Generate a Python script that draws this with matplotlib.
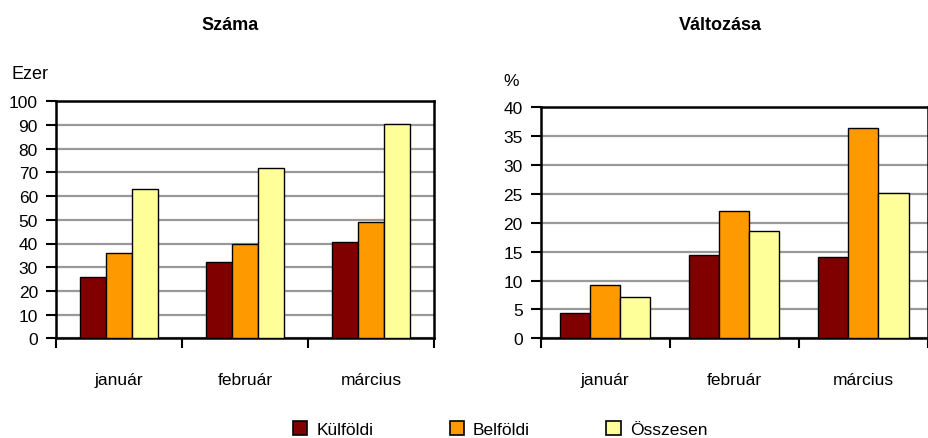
import numpy as np
import matplotlib
matplotlib.use("Agg")
import matplotlib.pyplot as plt
from matplotlib.patches import Patch

plt.rcParams["font.family"] = ["Liberation Sans", "DejaVu Sans"]

months = ["január", "február", "március"]
series = ["Külföldi", "Belföldi", "Összesen"]
colors = ["#800000", "#FF9900", "#FFFF99"]

# Száma (ezer)
count_kulfoldi = [25.7, 32.4, 40.8]
count_belfoldi = [35.8, 40.0, 49.2]
count_osszesen = [62.8, 71.9, 90.6]

# Változása (%)
chg_kulfoldi = [4.4, 14.4, 14.1]
chg_belfoldi = [9.2, 22.0, 36.5]
chg_osszesen = [7.1, 18.5, 25.1]

W, H = 929, 439
fig = plt.figure(figsize=(W / 100, H / 100), dpi=100)


def px_axes(x0, y0, x1, y1):
    return fig.add_axes([x0 / W, (H - y1) / H, (x1 - x0) / W, (y1 - y0) / H])


def draw(ax, data, ymax, ystep, barw):
    x = np.arange(len(months))
    for i, (vals, c) in enumerate(zip(data, colors)):
        ax.bar(x + (i - 1) * barw, vals, barw, color=c, edgecolor="black",
               lw=1.0, zorder=3)
    ax.set_xlim(-0.5, len(months) - 0.5)
    ax.set_ylim(0, ymax)
    ax.set_yticks(np.arange(0, ymax + 0.1, ystep))
    ax.yaxis.grid(True, color="#999999", lw=1.6, zorder=0)
    ax.set_xticks(np.arange(-0.5, len(months), 1.0))
    ax.set_xticklabels([])
    ax.set_xticks(x, minor=True)
    ax.set_xticklabels(months, minor=True, fontsize=12.5)
    ax.tick_params(axis="x", which="major", direction="out", length=7, width=1.5)
    ax.tick_params(axis="x", which="minor", length=0, pad=24)
    ax.tick_params(axis="y", direction="out", length=7, width=1.5,
                   labelsize=12.5, pad=6)
    for s in ax.spines.values():
        s.set_linewidth(1.8)
        s.set_color("black")


ax1 = px_axes(56, 102.3, 434, 339.3)
draw(ax1, [count_kulfoldi, count_belfoldi, count_osszesen], 100, 10, 0.204)

ax2 = px_axes(540.7, 108.3, 928, 339.3)
draw(ax2, [chg_kulfoldi, chg_belfoldi, chg_osszesen], 40, 5, 0.233)

fig.text(230 / W, 1 - 26 / H, "Száma", ha="center", va="center",
         fontsize=13, fontweight="bold")
fig.text(720 / W, 1 - 26 / H, "Változása", ha="center", va="center",
         fontsize=13, fontweight="bold")
fig.text(12 / W, 1 - 75 / H, "Ezer", ha="left", va="center", fontsize=13)
fig.text(503 / W, 1 - 82 / H, "%", ha="left", va="center", fontsize=12.5)

handles = [Patch(facecolor=c, edgecolor="black", lw=1.2) for c in colors]
fig.legend(handles, series, loc="center", bbox_to_anchor=(500 / W, 9 / H),
           ncol=3, frameon=False, fontsize=12.5, handlelength=0.85,
           handleheight=0.85, handletextpad=0.5, columnspacing=4.4,
           borderpad=0)

fig.savefig("out.png", dpi=100)
